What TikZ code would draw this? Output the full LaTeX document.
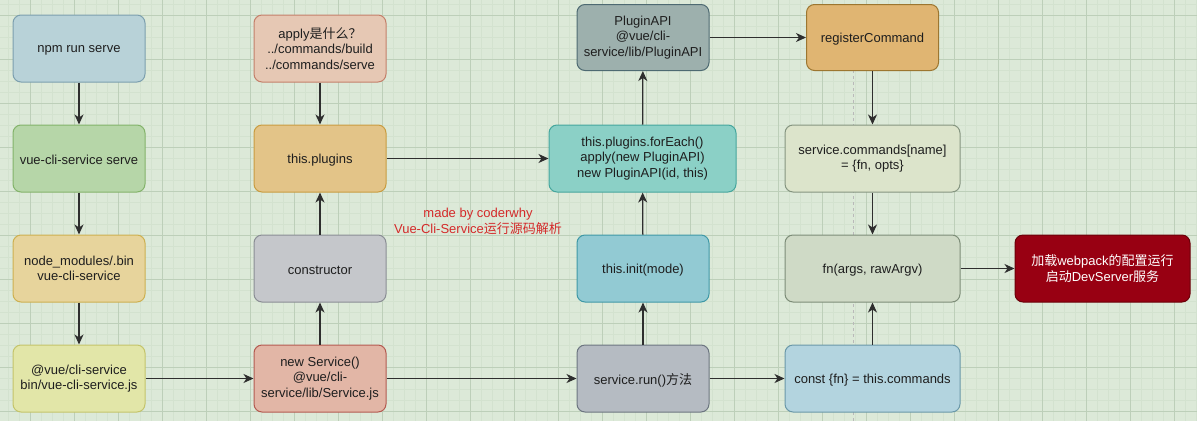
\documentclass[tikz,border=0pt]{standalone}
\usepackage{fontspec}
\setmainfont{Liberation Sans}
\newfontfamily\cjk{Noto Sans CJK SC}
\usetikzlibrary{arrows.meta}
\newcommand{\lowtxt}[1]{\raisebox{-1.5pt}[\height][\depth]{#1}}
\definecolor{bg}{HTML}{DCE9D8}
\definecolor{gminor}{HTML}{D3E2CF}
\definecolor{gmajor}{HTML}{BDCFB9}
\definecolor{ink}{HTML}{1E1E1E}
\definecolor{arr}{HTML}{2E2E2E}
\definecolor{redtxt}{HTML}{D42A2A}
\definecolor{fNpm}{HTML}{B8D2D8}\definecolor{dNpm}{HTML}{7C9FAE}
\definecolor{fVcs}{HTML}{B6D6A8}\definecolor{dVcs}{HTML}{83B36A}
\definecolor{fNod}{HTML}{E7D49C}\definecolor{dNod}{HTML}{CDB050}
\definecolor{fBin}{HTML}{E2E6A8}\definecolor{dBin}{HTML}{C4C46A}
\definecolor{fApp}{HTML}{E6C8B4}\definecolor{dApp}{HTML}{C47F6A}
\definecolor{fPlg}{HTML}{E3C488}\definecolor{dPlg}{HTML}{C99C40}
\definecolor{fCon}{HTML}{C5C7CB}\definecolor{dCon}{HTML}{8A8D94}
\definecolor{fNew}{HTML}{E2B6A6}\definecolor{dNew}{HTML}{B45A50}
\definecolor{fApi}{HTML}{9DB0AD}\definecolor{dApi}{HTML}{4E6A72}
\definecolor{fFor}{HTML}{8BD0C6}\definecolor{dFor}{HTML}{45A69D}
\definecolor{fIni}{HTML}{92CAD3}\definecolor{dIni}{HTML}{3F98A6}
\definecolor{fRun}{HTML}{B5BBC2}\definecolor{dRun}{HTML}{6C7580}
\definecolor{fReg}{HTML}{E0B572}\definecolor{dReg}{HTML}{9C7630}
\definecolor{fCmd}{HTML}{DCE4CB}\definecolor{dCmd}{HTML}{859580}
\definecolor{fFn}{HTML}{CFDAC6}\definecolor{dFn}{HTML}{7D8D78}
\definecolor{fCst}{HTML}{B3D4DF}\definecolor{dCst}{HTML}{6A98A8}
\definecolor{fRed}{HTML}{980012}\definecolor{dRed}{HTML}{6A0008}
\tikzset{
  box/.style={draw, rounded corners=8pt, line width=1pt, align=center,
    font=\fontsize{13}{15.5}\selectfont, text=ink,
    minimum height=67pt, inner sep=2pt},
  narrow/.style={minimum width=132pt},
  wide/.style={minimum width=175pt},
  flow/.style={draw=arr, line width=1.3pt, -{Stealth[length=10pt,width=9pt,inset=3pt]}},
  gridminor/.style={draw=gminor, line width=0.4pt},
  gridmajor/.style={draw=gmajor, line width=0.8pt},
  guide/.style={draw=gray!55, line width=0.8pt, dash pattern=on 3pt off 3pt},
  note/.style={text=redtxt, align=center, font=\fontsize{13}{16}\selectfont}
}
\begin{document}
\begin{tikzpicture}[x=1pt,y=-1pt]
\useasboundingbox (0,0) rectangle (1197,421);
\fill[bg] (0,0) rectangle (1197,421);
\foreach \x in {-2.5,8.5,...,1200} \draw[gridminor] (\x,0) -- (\x,421);
\foreach \y in {4,15,...,425} \draw[gridminor] (0,\y) -- (1197,\y);
\foreach \x in {30.5,74.5,...,1200} \draw[gridmajor] (\x,0) -- (\x,421);
\foreach \y in {15,59,...,425} \draw[gridmajor] (0,\y) -- (1197,\y);
\coordinate (gtop) at (853,70);
\coordinate (gbot) at (853,421);
\draw[guide] (gtop) -- (gbot);

% column 1
\node[box,narrow,fill=fNpm,draw=dNpm] (npm) at (79,48.5) {\lowtxt{npm run serve}};
\node[box,narrow,fill=fVcs,draw=dVcs] (vcs) at (79,158.5) {\lowtxt{vue-cli-service serve}};
\node[box,narrow,fill=fNod,draw=dNod] (nod) at (79,268.5) {node\_modules/.bin\\vue-cli-service};
\node[box,narrow,fill=fBin,draw=dBin] (bin) at (79,378.5) {@vue/cli-service\\bin/vue-cli-service.js};
% column 2
\node[box,narrow,fill=fApp,draw=dApp] (app) at (320,48.5) {apply{\cjk 是什么？}\\../commands/build\\../commands/serve};
\node[box,narrow,fill=fPlg,draw=dPlg] (plg) at (320,158.5) {\lowtxt{this.plugins}};
\node[box,narrow,fill=fCon,draw=dCon] (con) at (320,268.5) {\lowtxt{constructor}};
\node[box,narrow,fill=fNew,draw=dNew] (new) at (320,378.5) {new Service()\\@vue/cli-\\service/lib/Service.js};
% column 3
\node[box,narrow,fill=fApi,draw=dApi,minimum height=66pt] (api) at (643,37.5) {PluginAPI\\@vue/cli-\\service/lib/PluginAPI};
\node[box,minimum width=187pt,fill=fFor,draw=dFor] (for) at (642.5,158.5) {this.plugins.forEach()\\apply(new PluginAPI)\\new PluginAPI(id, this)};
\node[box,narrow,fill=fIni,draw=dIni] (ini) at (643,268.5) {\lowtxt{this.init(mode)}};
\node[box,narrow,fill=fRun,draw=dRun] (run) at (643,378.5) {\lowtxt{service.run(){\cjk 方法}}};
% column 4
\node[box,narrow,fill=fReg,draw=dReg,minimum height=66pt] (reg) at (872.5,37.5) {\lowtxt{registerCommand}};
\node[box,wide,fill=fCmd,draw=dCmd] (cmd) at (872.5,158.5) {service.commands[name]\\= \{fn, opts\}};
\node[box,wide,fill=fFn,draw=dFn] (fn) at (872.5,268.5) {\lowtxt{fn(args, rawArgv)}};
\node[box,wide,fill=fCst,draw=dCst] (cst) at (872.5,378.5) {\lowtxt{const \{fn\} = this.commands}};
\node[box,wide,fill=fRed,draw=dRed,text=white] (red) at (1102.5,268.5) {{\cjk 加载}webpack{\cjk 的配置运行}\\{\cjk 启动}DevServer{\cjk 服务}};

\node[note] (mark) at (478,221) {made by coderwhy\\Vue-Cli-Service{\cjk 运行源码解析}};

% connectors
\draw[flow] (npm) -- (vcs);
\draw[flow] (vcs) -- (nod);
\draw[flow] (nod) -- (bin);
\draw[flow] (bin) -- (new);
\draw[flow] (new) -- (con);
\draw[flow] (con) -- (plg);
\draw[flow] (app) -- (plg);
\draw[flow] (plg) -- (for);
\draw[flow] (new) -- (run);
\draw[flow] (run) -- (ini);
\draw[flow] (ini) -- (for);
\draw[flow] (for) -- (api);
\draw[flow] (api) -- (reg);
\draw[flow] (reg) -- (cmd);
\draw[flow] (cmd) -- (fn);
\draw[flow] (run) -- (cst);
\draw[flow] (cst) -- (fn);
\draw[flow] (fn) -- (red);
\end{tikzpicture}
\end{document}
